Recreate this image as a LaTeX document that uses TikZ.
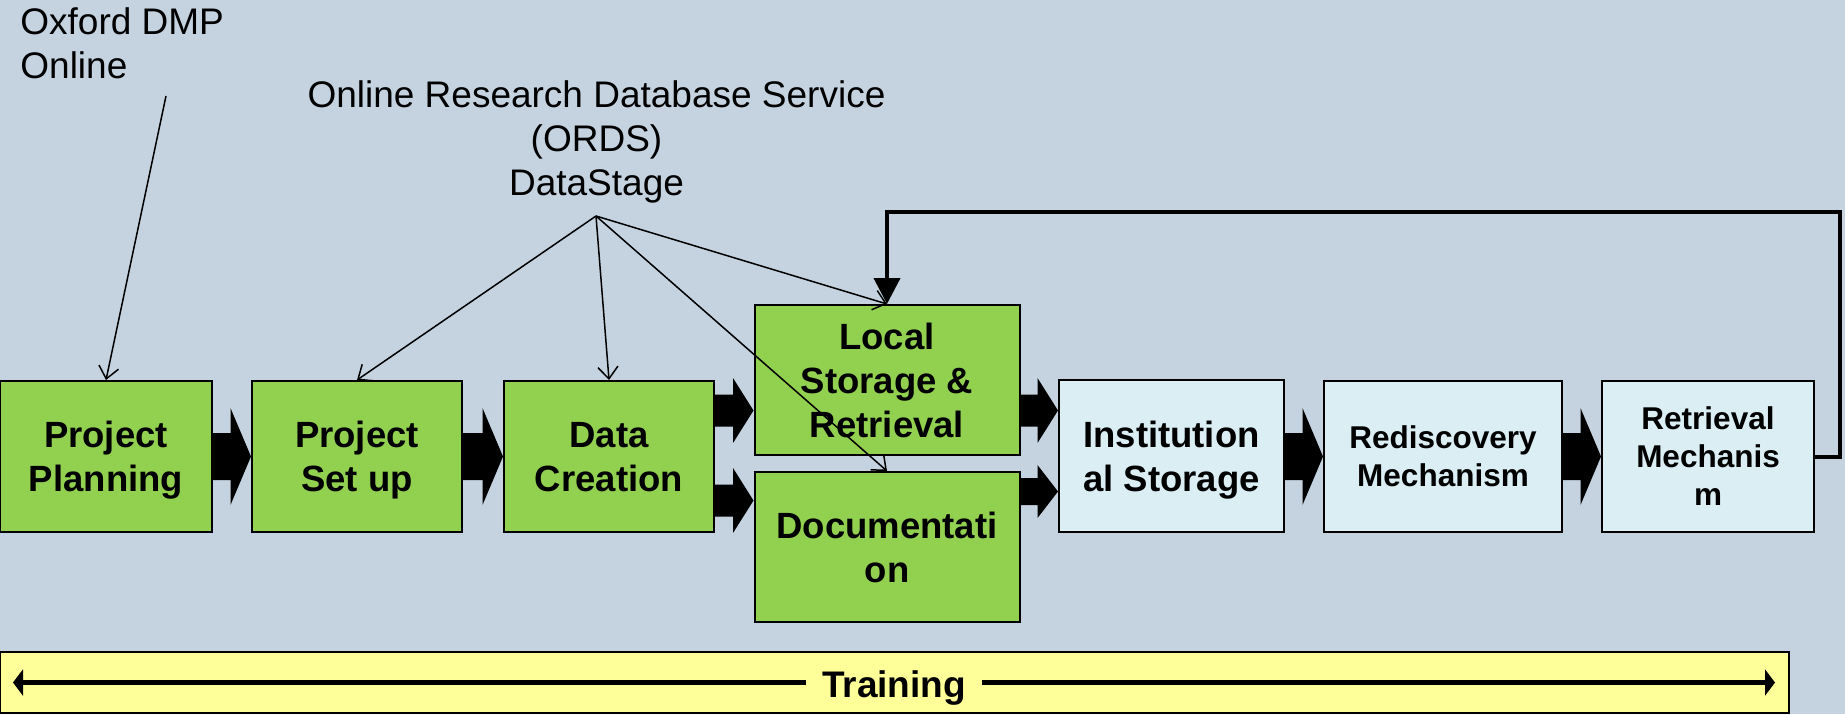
\documentclass[tikz,border=0pt]{standalone}
\usepackage{fontspec}
\setmainfont{Liberation Sans}
\usetikzlibrary{arrows.meta,calc}
\definecolor{bgc}{HTML}{C5D3E0}
\definecolor{boxgreen}{HTML}{92D050}
\definecolor{boxblue}{HTML}{DAEEF3}
\definecolor{baryellow}{HTML}{FFFF99}
\tikzset{
  stagebox/.style={draw=black, line width=1pt, fill=boxgreen, minimum width=105pt,
    minimum height=75.5pt, align=center, inner sep=0pt, text depth=0pt,
    font=\bfseries\fontsize{18.25pt}{22pt}\selectfont},
  laterbox/.style={stagebox, fill=boxblue},
  smalltext/.style={font=\bfseries\fontsize{15.75pt}{19pt}\selectfont},
  label/.style={inner sep=0pt, font=\fontsize{18.5pt}{22pt}\selectfont},
  thinarr/.style={line width=0.75pt, -{Straight Barb[length=6pt,width=10pt]}},
  fbarr/.style={line width=2pt, -{Triangle[length=13pt,width=13pt]}},
  trainarr/.style={line width=2.5pt, {Triangle[length=5pt,width=13pt]}-{Triangle[length=5pt,width=13pt]}},
}
% block arrow between two nodes: #1 from, #2 to, #3 y centre (px), #4 shaft half, #5 head half
\newcommand\blockarr[5]{%
  \fill let \p1=(#1.east), \p2=(#2.west) in
    (\x1,{-0.5pt*(#3-#4)}) -- (\x2-10.25pt,{-0.5pt*(#3-#4)}) -- (\x2-10.25pt,{-0.5pt*(#3-#5)})
    -- (\x2,{-0.5pt*(#3)}) -- (\x2-10.25pt,{-0.5pt*(#3+#5)}) -- (\x2-10.25pt,{-0.5pt*(#3+#4)})
    -- (\x1,{-0.5pt*(#3+#4)}) -- cycle;}
\begin{document}
\begin{tikzpicture}[x=0.5pt,y=-0.5pt]
\useasboundingbox (0,0) rectangle (1845,714);
\fill[bgc] (0,0) rectangle (1845,714);

% labels
\node[label, anchor=north west, align=left] (oxf) at (20,7) {Oxford DMP\\Online};
\node[label, anchor=north, align=center] (ords) at (596.5,80) {Online Research Database Service\\(ORDS)\\DataStage};
\coordinate (oxfsrc) at (166,96);
\coordinate (ordssrc) at (596,216);

% stage boxes
\node[stagebox, minimum width=106pt] (pp) at (106,456.5) {Project\\Planning};
\node[stagebox] (psu) at (357,456.5) {Project\\Set up};
\node[stagebox] (dc) at (609,456.5) {Data\\Creation};
\node[stagebox, minimum width=132.5pt, minimum height=75pt] (local) at (887,380) {Local\\Storage \&\\Retrieval};
\node[stagebox, minimum width=132.5pt, minimum height=75pt] (doc) at (887,547) {Documentati\\on};
\node[laterbox, minimum width=112.5pt, minimum height=76pt] (inst) at (1171.5,456) {Institution\\al Storage};
\node[laterbox, smalltext, minimum width=119pt] (red) at (1443,456.5) {Rediscovery\\Mechanism};
\node[laterbox, smalltext, minimum width=106pt] (ret) at (1708,456.5) {Retrieval\\Mechanis\\m};

% block arrows
\blockarr{pp}{psu}{456.5}{23.5}{48.5}
\blockarr{psu}{dc}{456.5}{23.5}{48.5}
\blockarr{dc}{local}{410.5}{16}{32.5}
\blockarr{dc}{doc}{500.5}{16}{32.5}
\blockarr{local}{inst}{410.5}{16}{32.5}
\blockarr{doc}{inst}{491.5}{13.5}{26.5}
\blockarr{inst}{red}{456.5}{23.5}{48.5}
\blockarr{red}{ret}{456.5}{23.5}{48.5}

% thin arrows
\draw[thinarr] (oxfsrc) -- (pp.north);
\draw[thinarr] (ordssrc) -- (psu.north);
\draw[thinarr] (ordssrc) -- (dc.north);
\draw[thinarr] (ordssrc) -- (local.north);
\draw[thinarr] (ordssrc) -- (doc.north);

% feedback loop
\coordinate (fbcorner) at (1840,212);
\draw[fbarr] (ret.east) -| (fbcorner) -| (local.north);

% training bar
\node[draw=black, line width=1pt, fill=baryellow, minimum width=894.5pt, minimum height=30.5pt, inner sep=0pt] (bar) at (894.5,682.5) {};
\coordinate (trL) at ($(bar.west)+(14,0)$);
\coordinate (trR) at ($(bar.east)+(-15,0)$);
\draw[trainarr] (trL) -- (trR) node[midway, yshift=-1pt, fill=baryellow, inner xsep=8pt, inner ysep=2pt, text depth=0pt, font=\bfseries\fontsize{18.5pt}{22pt}\selectfont] (trtext) {Training};
\end{tikzpicture}
\end{document}
